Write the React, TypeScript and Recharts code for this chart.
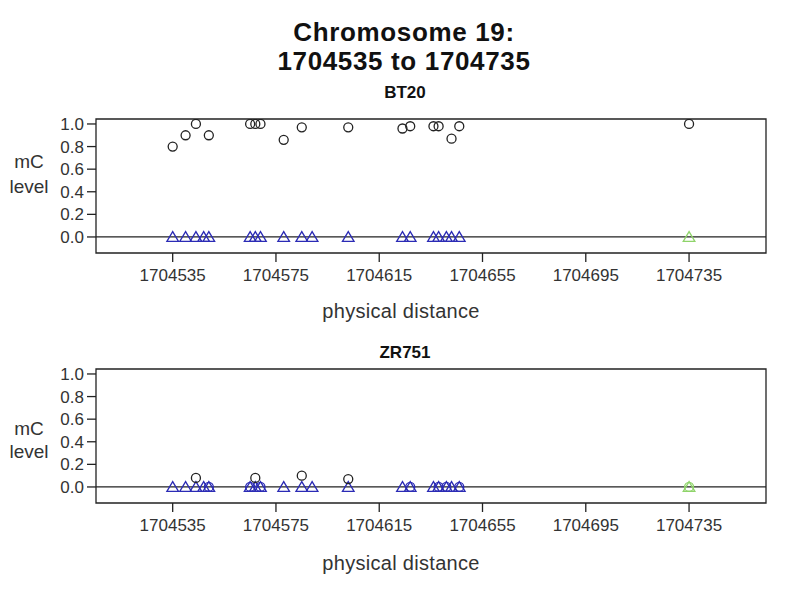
import React from 'react';
import {
  ScatterChart,
  Scatter,
  XAxis,
  YAxis,
  ReferenceLine,
  ReferenceArea,
} from 'recharts';

// CpG positions along chromosome 19
const positions = [
  1704535, 1704540, 1704544, 1704547, 1704549, 1704565, 1704567, 1704569, 1704578, 1704585,
  1704589, 1704603, 1704624, 1704627, 1704636, 1704638, 1704641, 1704643, 1704646, 1704735,
];
const siteClass = [
  'CpG', 'CpG', 'CpG', 'CpG', 'CpG', 'CpG', 'CpG', 'CpG', 'CpG', 'CpG',
  'CpG', 'CpG', 'CpG', 'CpG', 'CpG', 'CpG', 'CpG', 'CpG', 'CpG', 'other',
];
const bt20Level = [
  0.8, 0.9, 1.0, null, 0.9, 1.0, 1.0, 1.0, 0.86, 0.97,
  null, 0.97, 0.96, 0.98, 0.98, 0.98, null, 0.87, 0.98, 1.0,
];
const zr751Level = [
  null, null, 0.08, null, 0.0, 0.0, 0.08, 0.0, null, 0.1,
  null, 0.07, null, 0.0, null, 0.0, 0.0, null, 0.0, 0.0,
];
const controlLevel = [
  0, 0, 0, 0, 0, 0, 0, 0, 0, 0,
  0, 0, 0, 0, 0, 0, 0, 0, 0, 0,
];

const xTicks = [1704535, 1704575, 1704615, 1704655, 1704695, 1704735];
const yTicks = [0, 0.2, 0.4, 0.6, 0.8, 1.0];
const xDomain = [1704505.3, 1704764.8];
const yDomain = [-0.142, 1.044];

const FONT = '"Liberation Sans", Arial, sans-serif';
const BLUE = '#2b2bb5';
const GREEN = '#8fd46a';
const classColor = (c: string) => (c === 'CpG' ? BLUE : GREEN);

const CircleMark = (props: any) => {
  const { cx, cy, payload } = props;
  const color = payload.y === 0 ? classColor(payload.cls) : '#222';
  return <circle cx={cx} cy={cy} r={4.5} fill="none" stroke={color} strokeWidth={1.3} />;
};

const TriangleMark = (props: any) => {
  const { cx, cy, payload } = props;
  const color = classColor(payload.cls);
  return (
    <polygon
      points={`${cx},${cy - 5.4} ${cx - 5.8},${cy + 4.4} ${cx + 5.8},${cy + 4.4}`}
      fill="none"
      stroke={color}
      strokeWidth={1.3}
    />
  );
};

const buildPoints = (levels: (number | null)[]) =>
  positions
    .map((x, i) => ({ x, y: levels[i], cls: siteClass[i] }))
    .filter((d) => d.y !== null);

const Panel = ({ levels }: { levels: (number | null)[] }) => {
  const circles = buildPoints(levels);
  const triangles = buildPoints(controlLevel);
  return (
    <ScatterChart width={790} height={300} margin={{ top: 119, right: 24, bottom: 0, left: 0 }}>
      <XAxis
        dataKey="x"
        type="number"
        domain={xDomain}
        allowDataOverflow
        ticks={xTicks}
        interval={0}
        axisLine={false}
        tickLine={{ stroke: '#222', strokeWidth: 1.3 }}
        tickSize={9}
        tickMargin={7}
        height={47}
        tick={{ fill: '#333', fontSize: 17, fontFamily: FONT }}
      />
      <YAxis
        dataKey="y"
        type="number"
        domain={yDomain}
        allowDataOverflow
        ticks={yTicks}
        interval={0}
        axisLine={false}
        tickLine={{ stroke: '#222', strokeWidth: 1.3 }}
        tickSize={9}
        tickMargin={3}
        width={96}
        tickFormatter={(v: number) => v.toFixed(1)}
        tick={{ fill: '#333', fontSize: 17, fontFamily: FONT }}
      />
      <ReferenceArea
        x1={xDomain[0]}
        x2={xDomain[1]}
        y1={yDomain[0]}
        y2={yDomain[1]}
        fill="none"
        stroke="#222"
        strokeWidth={1.3}
        ifOverflow="visible"
      />
      <ReferenceLine y={0} stroke="#222" strokeWidth={1.3} />
      <Scatter data={triangles} shape={TriangleMark} isAnimationActive={false} />
      <Scatter data={circles} shape={CircleMark} isAnimationActive={false} />
    </ScatterChart>
  );
};

const Text = ({ children, left, top, width, size, bold, spacing, align }: any) => (
  <div
    style={{
      position: 'absolute',
      left,
      top,
      width,
      fontSize: size,
      lineHeight: `${size}px`,
      fontWeight: bold ? 'bold' : 'normal',
      letterSpacing: spacing || 0,
      textAlign: align || 'center',
      fontFamily: FONT,
      color: bold ? '#111' : '#333',
      whiteSpace: 'nowrap',
    }}
  >
    {children}
  </div>
);

export default function App() {
  return (
    <div style={{ position: 'absolute', left: 0, top: 0, width: 790, height: 591, background: '#fff' }}>
      <div style={{ position: 'absolute', left: 0, top: 0 }}>
        <Panel levels={bt20Level} />
      </div>
      <div style={{ position: 'absolute', left: 0, top: 250 }}>
        <Panel levels={zr751Level} />
      </div>
      <Text left={204} top={18.7} width={400} size={26} bold spacing={0.65}>Chromosome 19:</Text>
      <Text left={204} top={47.5} width={400} size={26} bold spacing={0.65}>1704535 to 1704735</Text>
      <Text left={305} top={83.5} width={200} size={17} bold>BT20</Text>
      <Text left={305} top={343.5} width={200} size={17} bold>ZR751</Text>
      <Text left={0} top={152} width={58} size={19}>mC</Text>
      <Text left={0} top={177} width={58} size={19}>level</Text>
      <Text left={0} top={419} width={58} size={19}>mC</Text>
      <Text left={0} top={442} width={58} size={19}>level</Text>
      <Text left={251} top={300.5} width={300} size={20} spacing={0.3}>physical distance</Text>
      <Text left={251} top={553} width={300} size={20} spacing={0.3}>physical distance</Text>
    </div>
  );
}
